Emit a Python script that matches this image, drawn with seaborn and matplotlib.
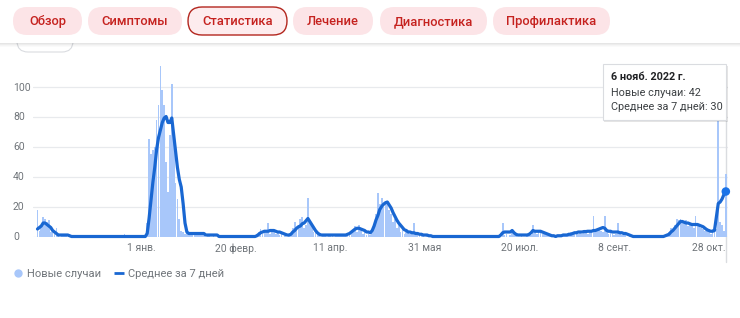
import matplotlib
matplotlib.use("Agg")
import matplotlib.pyplot as plt
import pandas as pd
import seaborn as sns
from matplotlib.patches import FancyBboxPatch, Rectangle
from matplotlib.lines import Line2D

# ---------------- data (daily new cases and 7-day average) ----------------
start_date = "2021-11-07"

nov21_cases = [18, 4, 7, 13, 12, 10, 11, 3, 5, 2, 6, 1, 0, 1, 2, 1, 0, 1, 0, 0, 0, 0, 0, 0]
nov21_avg = [5, 6, 7, 9, 9, 8, 7, 6, 4, 3, 2, 1, 1, 1, 1, 1, 1, 0.5, 0, 0, 0, 0, 0, 0]

dec21_cases = [0, 0, 0, 0, 0, 0, 0, 0, 0, 0, 0, 0, 0, 0, 0, 0, 0, 0, 0, 0, 0, 0, 2, 0, 0, 0, 0, 0, 0, 0, 0]
dec21_avg = [0, 0, 0, 0, 0, 0, 0, 0, 0, 0, 0, 0, 0, 0, 0, 0, 0, 0, 0, 0, 0, 0, 0, 0, 0, 0, 0, 0, 0, 0, 0]

jan22_cases = [0, 0, 1, 9, 65, 55, 58, 60, 78, 88, 114, 98, 88, 50, 30, 68, 102, 66, 36, 25,
               12, 4, 3, 2, 3, 2, 3, 2, 3, 1, 2]
jan22_avg = [0, 0, 0, 2, 12, 24, 36, 46, 58, 66, 71, 76, 79, 80, 76, 76, 79, 68, 57, 46,
             38, 33, 22, 9, 3, 2, 2, 2, 2, 2, 2]

feb22_cases = [2, 1, 2, 0, 1, 1, 0, 1, 0, 0, 0, 0, 0, 0, 0, 1, 0, 0, 0, 0, 0, 0, 0, 0, 0, 0, 0, 0]
feb22_avg = [2, 2, 2, 1, 1, 1, 1, 1, 1, 1, 0, 0, 0, 0, 0, 0, 0, 0, 0, 0, 0, 0, 0, 0, 0, 0, 0, 0]

mar22_cases = [0, 0, 2, 3, 5, 2, 4, 3, 9, 2, 4, 3, 2, 4, 1, 2, 0, 1, 0, 1, 2, 6, 10, 5, 8, 12,
               13, 6, 8, 26, 10]
mar22_avg = [0, 0, 0.5, 1.5, 2.5, 3, 3.5, 3.5, 3.5, 4, 4, 4, 3.5, 3, 3, 2.5, 2, 1.5, 1, 1, 1.5,
             3, 4, 5.5, 6.5, 7, 8.5, 9, 10.5, 12, 10]

apr22_cases = [7, 3, 4, 2, 1, 0, 1, 1, 0, 2, 1, 1, 0, 1, 2, 1, 1, 2, 1, 2, 3, 2, 4, 7, 3, 8, 5, 2, 3, 1]
apr22_avg = [8, 6, 4, 2.5, 1.5, 1, 1, 1, 1, 1, 1, 1, 1, 1, 1, 1, 1, 1, 1, 1.5, 2, 3, 4, 5, 5.5,
             5.5, 5, 4.5, 4, 3]

may22_cases = [2, 1, 4, 8, 15, 29, 22, 26, 20, 24, 22, 18, 15, 10, 12, 6, 8, 3, 5, 2, 4, 3, 2, 3,
               9, 2, 3, 1, 2, 1, 0]
may22_avg = [3, 2.5, 4, 7, 11, 14, 18, 20, 21.5, 22.5, 23, 21, 19, 16, 13.5, 11, 9, 7.5, 6, 4.5,
             4, 3, 3, 2.5, 2.5, 2, 2, 1.5, 1.5, 1, 1]

jun22_cases = [1, 0, 1, 0, 0, 0, 0, 0, 0, 0, 0, 0, 0, 0, 0, 0, 0, 0, 0, 0, 0, 0, 0, 0, 0, 0, 0, 0, 0, 0]
jun22_avg = [1, 0.5, 0.5, 0, 0, 0, 0, 0, 0, 0, 0, 0, 0, 0, 0, 0, 0, 0, 0, 0, 0, 0, 0, 0, 0, 0, 0, 0, 0, 0]

jul22_cases = [0, 0, 0, 0, 0, 0, 0, 0, 0, 0, 9, 1, 2, 0, 1, 3, 2, 1, 0, 0, 1, 0, 0, 1, 2, 1, 8, 3,
               2, 4, 3]
jul22_avg = [0, 0, 0, 0, 0, 0, 0, 0, 0, 1, 2.5, 3, 3, 3, 3, 4, 2.5, 1.5, 1, 1, 1, 1, 1, 1, 1.5,
             2.5, 4, 3.5, 3.5, 3.5, 3.5]

aug22_cases = [2, 3, 1, 2, 1, 0, 1, 0, 1, 0, 1, 2, 1, 2, 1, 3, 2, 2, 3, 2, 3, 2, 4, 3, 2, 4, 3,
               14, 3, 4, 5]
aug22_avg = [3, 2.5, 2, 1.5, 1, 0.5, 0.5, 0, 0.5, 0.5, 0.5, 1, 1, 1, 1.5, 1.5, 2, 2.5, 2.5, 3,
             3, 3, 3.3, 3.3, 3.5, 3.5, 3.5, 4, 4, 4.5, 5]

sep22_cases = [4, 3, 14, 3, 2, 3, 2, 1, 2, 9, 2, 1, 2, 1, 0, 1, 0, 0, 1, 0, 0, 1, 0, 0, 1, 0, 0,
               1, 0, 0]
sep22_avg = [5.5, 6, 5.5, 4, 3.5, 3.5, 3, 3, 3, 3, 2.5, 2.5, 2, 2, 1.5, 1, 0.5, 0, 0, 0, 0, 0, 0,
             0, 0, 0, 0, 0, 0, 0]

oct22_cases = [0, 1, 0, 0, 1, 2, 3, 6, 5, 8, 12, 11, 12, 9, 10, 11, 7, 9, 8, 6, 14, 7, 8, 6, 5,
               4, 6, 3, 2, 5, 4]
oct22_avg = [0, 0, 0, 0, 0.5, 1, 1.5, 3, 4, 5.5, 7, 8.5, 10, 10, 9.5, 9, 9, 8.5, 8, 8, 8, 8, 7.5,
             7, 6.5, 5.5, 4.5, 4, 3.5, 3.5, 4]

nov22_cases = [5, 92, 10, 8, 4, 42]
nov22_avg = [13, 22, 23, 25, 28, 30]

cases = (nov21_cases + dec21_cases + jan22_cases + feb22_cases + mar22_cases + apr22_cases
         + may22_cases + jun22_cases + jul22_cases + aug22_cases + sep22_cases + oct22_cases
         + nov22_cases)
avg7 = (nov21_avg + dec21_avg + jan22_avg + feb22_avg + mar22_avg + apr22_avg + may22_avg
        + jun22_avg + jul22_avg + aug22_avg + sep22_avg + oct22_avg + nov22_avg)

tick_dates = ["2022-01-01", "2022-02-20", "2022-04-11", "2022-05-31", "2022-07-20",
              "2022-09-08", "2022-10-28"]
tick_labels = ["1 янв.", "20 февр.", "11 апр.", "31 мая", "20 июл.", "8 сент.", "28 окт."]
y_ticks = [0, 20, 40, 60, 80, 100]

nav_labels = ["Обзор", "Симптомы", "Статистика", "Лечение", "Диагностика", "Профилактика"]
active_nav = "Статистика"
legend_labels = ["Новые случаи", "Среднее за 7 дней"]
tooltip_title = "6 нояб. 2022 г."
tooltip_lines = ["Новые случаи: 42", "Среднее за 7 дней: 30"]

# ---------------- frame ----------------
n = min(len(cases), len(avg7))
dates = pd.date_range(start_date, periods=n, freq="D")
df = pd.DataFrame({"day": range(n), "date": dates, "cases": cases[:n], "avg": avg7[:n]})
t0 = pd.Timestamp(start_date)
tick_pos = [(pd.Timestamp(d) - t0).days for d in tick_dates]

sns.set_theme(style="white")
plt.rcParams["font.family"] = ["Roboto", "DejaVu Sans"]

W, H = 740, 318
fig = plt.figure(figsize=(W / 100, H / 100), dpi=100)
fig.patch.set_facecolor("white")

px_day = 1.891
x0_px = 37.5
ax_left, ax_right, ax_top, ax_bot = 33, 728, 60, 236.5
ax = fig.add_axes([ax_left / W, 1 - ax_bot / H, (ax_right - ax_left) / W, (ax_bot - ax_top) / H])

BAR = "#a8c7fa"
LINE = "#1967d2"
GRAY = "#70757a"

sns.barplot(data=df, x="day", y="cases", native_scale=True, color=BAR, saturation=1,
            width=0.9, linewidth=0, errorbar=None, ax=ax, zorder=2)
sns.lineplot(data=df, x="day", y="avg", color=LINE, linewidth=2.3, ax=ax, zorder=4,
             clip_on=False, solid_joinstyle="round", solid_capstyle="round")
last = df.iloc[[-1]]
sns.scatterplot(data=last, x="day", y="avg", color="#1a73e8", s=38, edgecolor="none",
                ax=ax, zorder=6, clip_on=False)

ax.set_xlim((ax_left - x0_px) / px_day, (ax_right - x0_px) / px_day)
ax.set_ylim(0, (ax_bot - ax_top) / 1.5)
ax.set_yticks(y_ticks)
ax.set_yticklabels([str(v) for v in y_ticks])
ax.set_xticks(tick_pos)
ax.set_xticklabels(tick_labels)
ax.set_xlabel("")
ax.set_ylabel("")
ax.yaxis.grid(True, color="#e8eaed", linewidth=0.9)
ax.xaxis.grid(False)
ax.set_axisbelow(True)
for s in ax.spines.values():
    s.set_visible(False)
ax.tick_params(axis="y", length=0, pad=14.4, labelsize=7.5, labelcolor=GRAY)
for lab in ax.get_yticklabels():
    lab.set_horizontalalignment("left")
ax.tick_params(axis="x", length=0, pad=5, labelsize=7.5, labelcolor=GRAY)

# hover line at the last day
hover_top = (ax_bot - 120) / 1.5
hover_bot = (ax_bot - 262) / 1.5
ax.plot([df["day"].iloc[-1]] * 2, [hover_bot, hover_top], color="#dadce0", lw=1,
        zorder=1, clip_on=False)

# legend
handles = [Line2D([], [], marker="o", linestyle="", color=BAR, markersize=5),
           Line2D([], [], color=LINE, lw=2, solid_capstyle="butt")]
fig.legend(handles=handles, labels=legend_labels, loc="center left",
           bbox_to_anchor=(13 / W, 1 - 274 / H), ncol=2, frameon=False, fontsize=8,
           handlelength=0.9, handletextpad=0.4, columnspacing=1.1, labelcolor=GRAY,
           borderpad=0, borderaxespad=0)

# ---------------- overlay (header + tooltip) in pixel coordinates ----------------
ov = fig.add_axes([0, 0, 1, 1], zorder=10)
ov.set_xlim(0, W)
ov.set_ylim(H, 0)
ov.axis("off")
ov.patch.set_alpha(0)

# partially hidden button under header
ov.add_patch(FancyBboxPatch((17, 28), 56, 24, boxstyle="round,pad=0,rounding_size=11",
                            facecolor="white", edgecolor="#dadce0", lw=0.8, zorder=1))
ov.add_patch(Rectangle((0, 0), W, 43, facecolor="white", edgecolor="none", zorder=2))
for i, a in enumerate([0.10, 0.07, 0.04, 0.02]):
    ov.add_patch(Rectangle((0, 43 + i), W, 1, facecolor="black", alpha=a, edgecolor="none", zorder=2))

pill_x = [13, 88, 188, 293, 380, 493]
pill_w = [69, 94, 99, 80, 107, 117]
for lab, x, w in zip(nav_labels, pill_x, pill_w):
    active = lab == active_nav
    ov.add_patch(FancyBboxPatch((x, 7), w, 28, boxstyle="round,pad=0,rounding_size=14",
                                facecolor="#fdecee" if active else "#fce4e7",
                                edgecolor="#b3261e" if active else "none",
                                lw=1.0, zorder=3))
    ov.text(x + w / 2, 21.5, lab, ha="center", va="center", fontsize=9.3,
            color="#c5221f", fontweight="medium", zorder=4)

# tooltip
ov.add_patch(Rectangle((604, 66), 124, 56, facecolor="black", alpha=0.10, edgecolor="none", zorder=5))
ov.add_patch(Rectangle((603, 64), 123, 56, facecolor="white", edgecolor="#dadce0", lw=0.8, zorder=6))
ov.text(611, 77.5, tooltip_title, ha="left", va="center", fontsize=7.8, fontweight="bold",
        color="#202124", zorder=7)
ov.text(611, 93, tooltip_lines[0], ha="left", va="center", fontsize=7.8, color="#3c4043", zorder=7)
ov.text(611, 107, tooltip_lines[1], ha="left", va="center", fontsize=7.8, color="#3c4043", zorder=7)

fig.savefig("out.png", dpi=100, facecolor="white")
